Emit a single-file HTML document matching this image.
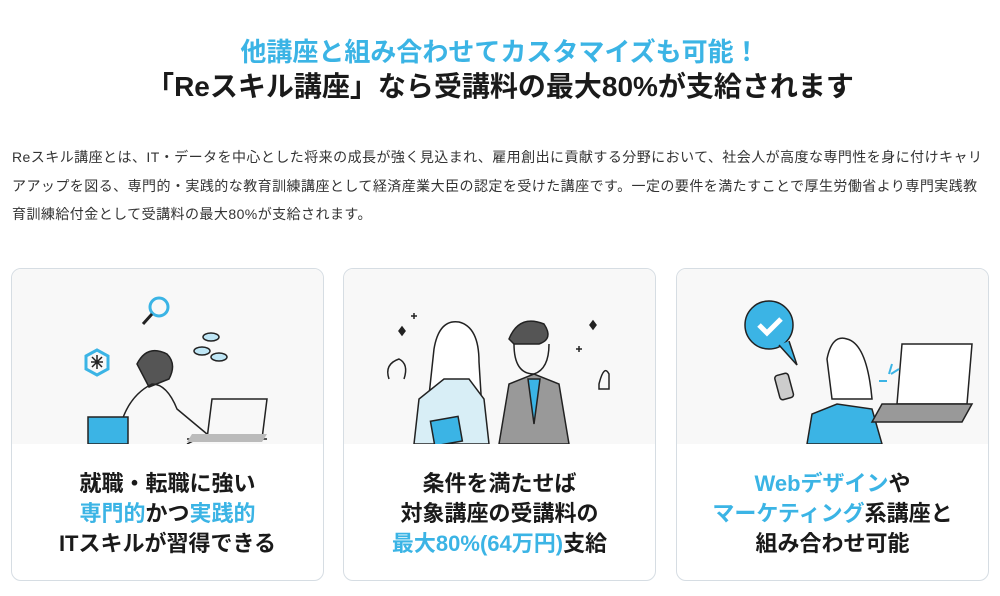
<!DOCTYPE html>
<html><head><meta charset="utf-8"><style>
*{margin:0;padding:0;box-sizing:border-box}
body{width:1000px;height:596px;background:#fff;font-family:"Liberation Sans","Noto Sans CJK JP",sans-serif;color:#222;position:relative;overflow:hidden}
.t1{position:absolute;top:34px;left:0;width:1000px;text-align:center;font-size:26px;font-weight:bold;color:#3bb4e5;line-height:36px}
.t2{position:absolute;top:68px;left:0;width:1000px;text-align:center;font-size:28px;font-weight:bold;color:#1a1a1a;line-height:38px}
.p{position:absolute;top:143px;left:12px;width:986px;font-size:14px;line-height:28.5px;color:#333;letter-spacing:0.45px}
.card{position:absolute;top:268px;width:313px;height:313px;border:1px solid #d6dde3;border-radius:10px;overflow:hidden;background:#fff}
.img{position:absolute;left:0;top:0;width:100%;height:175px;background:#f8f8f8}
.txt{position:absolute;top:200px;left:0;width:100%;text-align:center;font-size:22px;font-weight:bold;line-height:30px;color:#1a1a1a}
.b{color:#3bb4e5}
</style></head><body>
<div class="t1">他講座と組み合わせてカスタマイズも可能！</div>
<div class="t2">「Reスキル講座」なら受講料の最大80%が支給されます</div>
<div class="p">Reスキル講座とは、IT・データを中心とした将来の成長が強く見込まれ、雇用創出に貢献する分野において、社会人が高度な専門性を身に付けキャリ<br>アアップを図る、専門的・実践的な教育訓練講座として経済産業大臣の認定を受けた講座です。一定の要件を満たすことで厚生労働省より専門実践教<br>育訓練給付金として受講料の最大80%が支給されます。</div>

<div class="card" style="left:11px">
<div class="img"><svg width="313" height="175" viewBox="0 0 313 175" fill="none" stroke="#222" stroke-width="1.5">
<circle cx="147" cy="38" r="9" stroke="#3bb4e5" stroke-width="3"/><line x1="140" y1="45" x2="131" y2="55" stroke-width="3"/>
<polygon points="74,87 85,81 96,87 96,100 85,106 74,100" stroke="#3bb4e5" stroke-width="3"/><path d="M79,93h12M85,86v14M80,88l10,10M90,88l-10,10"/>
<ellipse cx="199" cy="68" rx="8" ry="4" fill="#bfe6f5"/><ellipse cx="190" cy="82" rx="8" ry="4" fill="#bfe6f5"/><ellipse cx="207" cy="88" rx="8" ry="4" fill="#bfe6f5"/>
<path d="M125,95q10,-20 30,-10q10,10 2,25l-20,8z" fill="#555"/>
<path d="M105,175q5,-45 35,-60q15,0 25,25l30,25l-20,10" />
<rect x="76" y="148" width="40" height="27" fill="#3bb4e5"/>
<path d="M195,170l5,-40h55l-5,40z M175,170h80"/>
<path d="M180,165h75l-5,8h-75z" fill="#bbb" stroke="none"/>
</svg></div>
<div class="txt">就職・転職に強い<br><span class="b">専門的</span>かつ<span class="b">実践的</span><br>ITスキルが習得できる</div>
</div>

<div class="card" style="left:343px">
<div class="img"><svg width="313" height="175" viewBox="0 0 313 175" fill="none" stroke="#222" stroke-width="1.5">
<path d="M70,44v6M67,47h6M235,77v6M232,80h6"/><path d="M55,62l3,-4l3,4l-3,4z M246,56l3,-4l3,4l-3,4z" fill="#222"/>
<path d="M90,80q5,-30 25,-27q20,5 20,40l5,80h-60z" fill="#fff"/>
<path d="M70,175l5,-45l25,-20h25l15,20l5,45z" fill="#d8eef6"/>
<rect x="88" y="150" width="28" height="25" fill="#3bb4e5" transform="rotate(-10 100 160)"/>
<path d="M45,110q-5,-15 10,-20q10,5 5,20" />
<path d="M165,70q10,-25 35,-15q10,15 -5,20h-25z" fill="#555"/>
<path d="M170,75q0,30 20,30q15,-5 15,-30"/>
<path d="M155,175l10,-60l25,-10l25,10l10,60z" fill="#999"/>
<path d="M184,110l6,45l6,-45z" fill="#3bb4e5"/>
<path d="M255,115q5,-20 10,-10v15h-10z"/>
</svg></div>
<div class="txt">条件を満たせば<br>対象講座の受講料の<br><span class="b">最大80%(64万円)</span>支給</div>
</div>

<div class="card" style="left:676px">
<div class="img"><svg width="313" height="175" viewBox="0 0 313 175" fill="none" stroke="#222" stroke-width="1.5">
<circle cx="92" cy="56" r="24" fill="#3bb4e5"/><path d="M102,76l18,20l-8,-24" fill="#3bb4e5"/>
<path d="M82,56l8,8l14,-14" stroke="#fff" stroke-width="5"/>
<path d="M150,90q5,-25 20,-20q20,5 25,60h-40z" fill="#fff"/>
<path d="M130,175l5,-30l25,-10l35,5l10,35z" fill="#3bb4e5"/>
<rect x="100" y="105" width="14" height="25" rx="3" fill="#ccc" transform="rotate(-15 107 117)"/>
<path d="M225,75h70l-5,60h-70z" fill="#fff"/><path d="M205,135h90l-10,18h-90z" fill="#999"/>
<path d="M215,95l-3,10M222,100l-8,5M210,112h-8" stroke="#3bb4e5" stroke-width="2"/>
</svg></div>
<div class="txt"><span class="b">Webデザイン</span>や<br><span class="b">マーケティング</span>系講座と<br>組み合わせ可能</div>
</div>
</body></html>
